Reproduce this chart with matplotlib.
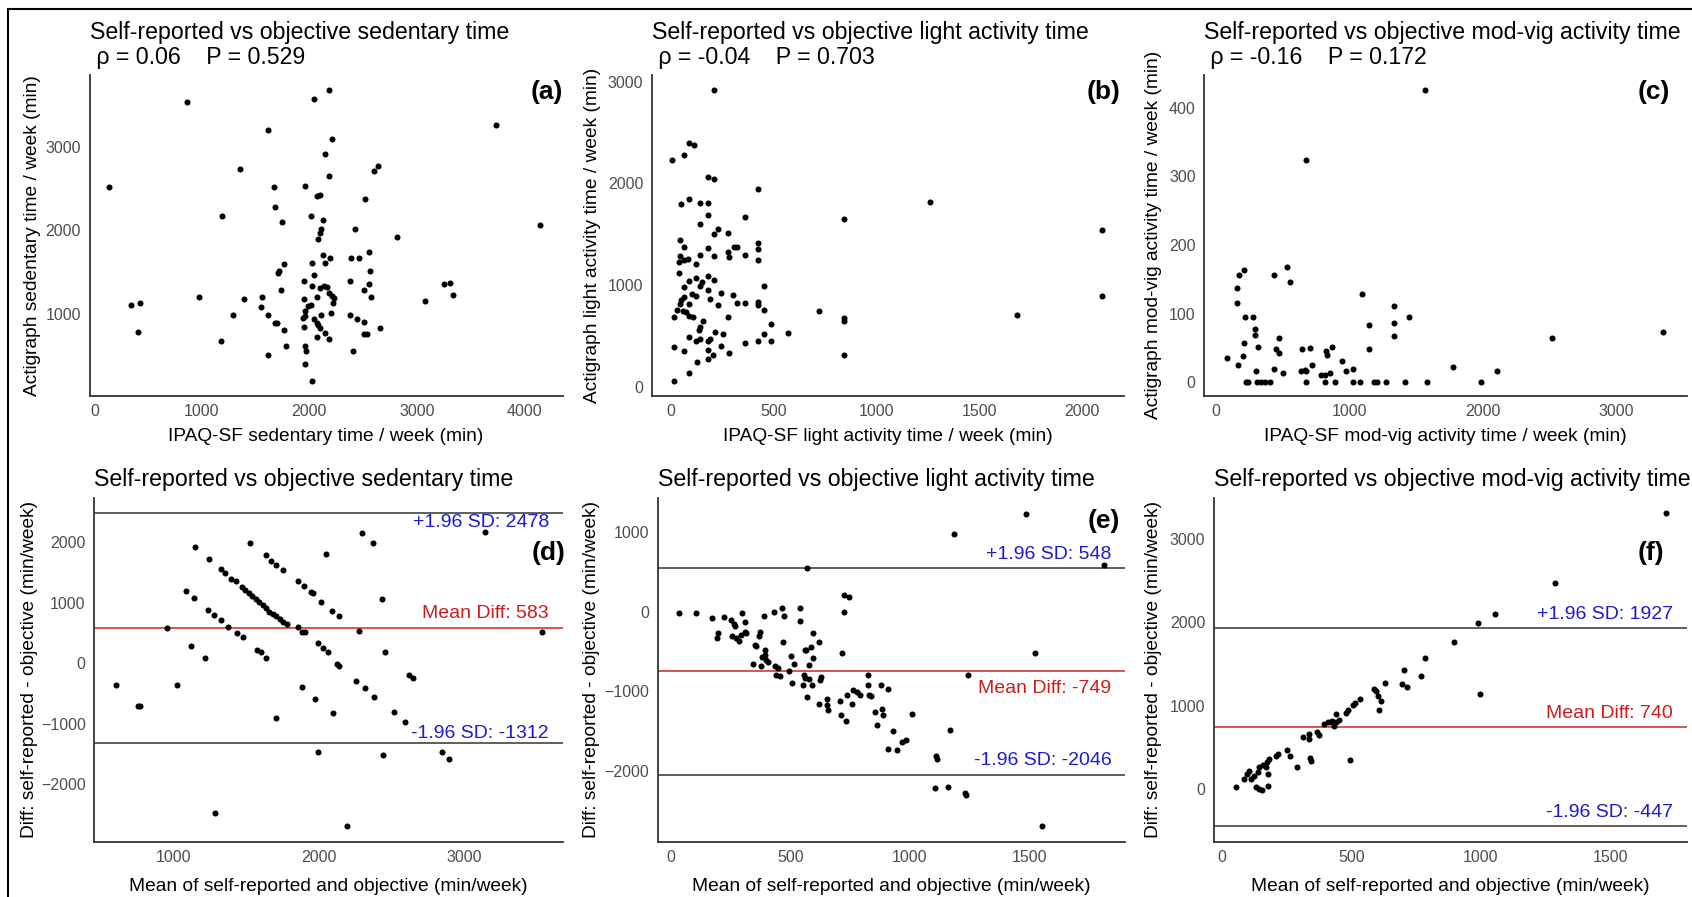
import numpy as np
import matplotlib
matplotlib.use('Agg')
import matplotlib.pyplot as plt
from matplotlib.lines import Line2D

plt.rcParams['font.family'] = ['Liberation Sans', 'DejaVu Sans']

W, H = 1692, 897

# --- data ---
# (a) IPAQ-SF vs Actigraph sedentary time
sed_pts = [(137,2514),(861,3538),(1613,3199),(1356,2733),(1187,2171),(1671,2514),(1684,2279),(1745,2096),
           (2047,3570),(2182,3681),(2213,3088),(2143,2916),(2182,2653),(1963,2530),(2075,2406),(2101,2418),
           (2519,2375),(2602,2713),(2637,2773),(2011,2171),(2127,2124),(2111,2016),(2101,1968),(2079,1896),
           (2422,2016),(2820,1924),(3739,3259),(4150,2064),(2551,1749),(2127,1705),(2194,1677),(2146,1618),
           (2021,1614),(2384,1673),(2458,1673),(1768,1598),(1716,1518),(1706,1490),(2047,1470),(2564,1518),
           (1947,1394),(2380,1394),(2554,1362),(3257,1366),(3308,1374),(2021,1339),(2101,1319),(2133,1339),
           (2165,1327),(1732,1287),(2506,1287),(2181,1259),(2207,1219),(2230,1199),(2220,1139),(971,1211),
           (1559,1211),(2577,1211),(3341,1227),(2069,1211),(1947,1179),(1395,1179),(3074,1163),(345,1116),
           (429,1131),(2011,1116),(1989,1100),(1552,1088),(1286,996),(1613,996),(2111,996),(2198,1016),
           (2380,996),(1963,1040),(1957,980),(1944,956),(2444,940),(2509,904),(2047,948),(2069,900),
           (2085,869),(2101,841),(1684,900),(1700,892),(1947,849),(2653,837),(1768,809),(2146,781),
           (2506,761),(2535,761),(2069,729),(2182,709),(1178,681),(1784,618),(1957,622),(1966,562),
           (2409,562),(1613,510),(403,793),(1960,402),(2021,203)]

# (b) light activity
light_pts = [(209,2918),(5,2226),(63,2282),(90,2397),(113,2380),(183,2066),(210,2039),(423,1948),(49,1797),
             (90,1843),(143,1807),(183,1807),(183,1692),(143,1603),(231,1551),(210,1498),(278,1511),(363,1666),
             (843,1652),(1263,1820),(45,1439),(63,1374),(43,1289),(63,1249),(83,1252),(37,1223),(123,1207),
             (143,1295),(183,1361),(210,1285),(278,1321),(283,1272),(306,1370),(323,1370),(363,1295),(423,1413),
             (423,1354),(423,1246),(37,1118),(63,977),(90,1043),(123,1066),(153,1033),(143,993),(183,1085),
             (210,1052),(452,987),(49,849),(66,879),(43,816),(104,911),(120,889),(183,951),(243,925),(303,898),
             (188,862),(320,823),(363,823),(423,836),(423,803),(231,803),(90,810),(452,757),(723,744),(1685,708),
             (31,754),(57,748),(75,731),(90,692),(110,682),(17,682),(278,682),(843,672),(843,646),(157,643),
             (143,584),(139,557),(485,616),(214,534),(252,518),(452,518),(570,531),(90,485),(123,446),(143,469),
             (183,446),(190,469),(363,430),(423,452),(485,452),(243,403),(17,387),(63,354),(183,361),(207,311),
             (183,272),(283,328),(843,311),(125,239),(90,134),(17,59),(2100,1545),(2100,895)]

# (c) moderate-vigorous activity
mv_pts = [(1563,426),(676,324),(3347,74),(2519,65),(88,36),(157,138),(157,116),(171,156),(214,163),(534,168),
          (559,146),(437,157),(220,95),(282,95),(291,78),(291,69),(214,57),(202,38),(165,25),(320,51),(471,65),
          (448,48),(471,43),(300,16),(434,19),(505,14),(228,0),(242,0),(308,0),(342,0),(371,0),(405,0),
          (645,48),(708,50),(636,16),(671,18),(679,16),(722,25),(676,0),(822,46),(833,40),(870,51),(790,11),
          (819,11),(856,14),(819,0),(893,0),(947,31),(976,16),(1030,19),(1030,0),(1078,0),(1093,129),(1150,84),
          (1150,48),(1184,0),(1204,0),(1275,0),(1332,111),(1332,87),(1332,67),(1447,95),(1418,0),(1583,0),
          (1778,23),(1986,0),(2106,16)]

# (d) Bland-Altman sedentary: mean, difference
ba_sed_pts = [(601,-355),(758,-701),(770,-701),(957,580),(1021,-355),(1083,1186),(1138,1076),(1145,1928),
              (1119,284),(1216,91),(1242,1719),(1235,883),(1280,800),(1323,713),(1375,597),(1323,1554),(1351,1499),
              (1394,1389),(1430,1362),(1470,1262),(1493,1208),(1517,1169),(1541,1114),(1565,1059),(1591,1004),
              (1614,960),(1636,911),(1655,850),(1683,812),(1707,773),(1731,729),(1754,685),(1529,1994),(1439,493),
              (1477,427),(1577,217),(1600,179),(1636,91),(1636,1785),(1671,1692),(1707,1626),(1754,1543),(1781,652),
              (1707,-910),(1857,1356),(1897,1274),(1945,1180),(1961,1153),(2011,1015),(2091,856),(2139,773),
              (1854,602),(1885,519),(1902,508),(1993,327),(2029,244),(2060,189),(2124,-13),(2141,-52),(2049,1801),
              (1885,-398),(1975,-591),(2098,-828),(1994,-1471),(2191,-2692),(1287,-2478),(2272,525),(2255,-294),
              (2317,-415),(2379,-553),(2296,2148),(2374,1994),(2431,1065),(2454,185),(2514,-811),(2592,-976),
              (2620,-189),(2649,-250),(2442,-1509),(2846,-1471),(2896,-1581),(3142,2170),(3533,524)]

# (e) Bland-Altman light
ba_light_pts = [(1488,1225),(1187,976),(569,548),(727,207),(746,186),(727,-5),(33,-21),(107,-21),(173,-84),
                (222,-71),(254,-105),(267,-154),(269,-175),(297,-21),(312,-129),(391,-51),(434,-5),(466,41),
                (476,-51),(542,41),(543,-117),(199,-271),(193,-333),(257,-312),(272,-333),(284,-366),(296,-292),
                (309,-250),(316,-271),(373,-250),(369,-304),(354,-416),(358,-437),(394,-479),(394,-541),(384,-570),
                (399,-612),(346,-653),(379,-678),(406,-637),(436,-686),(451,-707),(440,-790),(458,-803),(470,-387),
                (503,-553),(515,-653),(496,-749),(507,-894),(560,-479),(567,-487),(585,-445),(597,-271),(619,-387),
                (596,-583),(578,-666),(558,-790),(563,-832),(578,-844),(555,-915),(593,-923),(570,-1069),(625,-853),
                (630,-824),(619,-1152),(652,-1094),(655,-1165),(657,-1227),(715,-520),(709,-1123),(712,-1297),
                (736,-1040),(734,-1372),(760,-1152),(764,-977),(779,-1011),(794,-1040),(824,-799),(824,-915),
                (831,-1048),(839,-1061),(854,-1260),(861,-1422),(879,-915),(910,-969),(884,-1218),(887,-1289),
                (928,-1497),(910,-1725),(948,-1734),(966,-1634),(985,-1609),(1009,-1281),(1110,-1808),(1112,-1850),
                (1170,-1489),(1104,-2203),(1160,-2191),(1231,-2266),(1234,-2299),(1242,-799),(1522,-520),
                (1552,-2690),(1811,580)]

# (f) Bland-Altman mod-vig
ba_mv_pts = [(1715,3312),(1289,2474),(1055,2103),(989,1995),(996,1137),(897,1759),(786,1572),(771,1356),
             (704,1424),(695,1257),(714,1217),(630,1265),(588,1197),(596,1177),(603,1117),(615,1057),(606,953),
             (534,1077),(514,1029),(508,1009),(480,917),(489,945),(440,897),(451,826),(440,798),(425,818),
             (396,778),(411,806),(422,798),(433,758),(366,678),(375,646),(336,658),(314,618),(336,598),(495,351),
             (339,371),(344,339),(289,267),(252,466),(262,399),(218,419),(210,391),(181,359),(173,319),(159,291),
             (170,259),(178,179),(144,259),(141,207),(126,159),(99,179),(114,119),(84,119),(107,219),(132,19),
             (144,0),(156,-8),(178,40),(55,19)]

sed_loa = [2478, 583, -1312]
light_loa = [548, -749, -2046]
mv_loa = [1927, 740, -447]

titles_top = ["Self-reported vs objective sedentary time",
              "Self-reported vs objective light activity time",
              "Self-reported vs objective mod-vig activity time"]
stats_top = [" \u03c1 = 0.06    P = 0.529", " \u03c1 = -0.04    P = 0.703", " \u03c1 = -0.16    P = 0.172"]
xlabels_top = ["IPAQ-SF sedentary time / week (min)", "IPAQ-SF light activity time / week (min)",
               "IPAQ-SF mod-vig activity time / week (min)"]
ylabels_top = ["Actigraph sedentary time / week (min)", "Actigraph light activity time / week (min)",
               "Actigraph mod-vig activity time / week (min)"]
xlabel_ba = "Mean of self-reported and objective (min/week)"
ylabel_ba = "Diff: self-reported - objective (min/week)"

fig = plt.figure(figsize=(W / 100, H / 100), dpi=100)


def box(l, t, r, b):
    return [l / W, 1 - b / H, (r - l) / W, (b - t) / H]


def style(ax, l, t, r, b, xlab, ylab, ylab_x, xlab_y):
    for s in ['top', 'right']:
        ax.spines[s].set_visible(False)
    for s in ['left', 'bottom']:
        ax.spines[s].set_color('#333333')
        ax.spines[s].set_linewidth(1.3)
    ax.tick_params(length=0, labelsize=11.5, labelcolor='#4D4D4D', pad=6.2)
    ax.set_xlabel(xlab, fontsize=13.8)
    ax.set_ylabel(ylab, fontsize=13.8)
    ax.xaxis.label.set_va('center')
    ax.yaxis.label.set_va('center')
    ax.xaxis.set_label_coords(0.5, -(xlab_y - b) / (b - t))
    ax.yaxis.set_label_coords((ylab_x - l) / (r - l), 0.5)


top_boxes = [(89.5, 75, 562.7, 395.7), (652, 75, 1124.3, 395.7), (1204.3, 75, 1686.7, 395.7)]
bot_boxes = [(94.3, 497.7, 562.7, 841.7), (657.7, 497.7, 1125, 841.7), (1214, 497.7, 1686.5, 841.7)]

top_data = [sed_pts, light_pts, mv_pts]
top_xlim = [(-45, 4357), (-92, 2207), (-85, 3524)]
top_ylim = [(29, 3855), (-89, 3066), (-19.4, 447.6)]
top_xt = [[0, 1000, 2000, 3000, 4000], [0, 500, 1000, 1500, 2000], [0, 1000, 2000, 3000]]
top_yt = [[1000, 2000, 3000], [0, 1000, 2000, 3000], [0, 100, 200, 300, 400]]
top_ylab_x = [33, 592, 1153]

for i in range(3):
    l, t, r, b = top_boxes[i]
    ax = fig.add_axes(box(l, t, r, b))
    pts = np.array(top_data[i])
    ax.scatter(pts[:, 0], pts[:, 1], s=19, c='black', linewidths=0, zorder=3)
    ax.set_xlim(*top_xlim[i])
    ax.set_ylim(*top_ylim[i])
    ax.set_xticks(top_xt[i])
    ax.set_yticks(top_yt[i])
    style(ax, l, t, r, b, xlabels_top[i], ylabels_top[i], top_ylab_x[i], 436)
    fig.text(l / W, 1 - 38.5 / H, titles_top[i], fontsize=16.7, ha='left', va='baseline')
    fig.text(l / W, 1 - 64 / H, stats_top[i], fontsize=16.7, ha='left', va='baseline')

bot_data = [ba_sed_pts, ba_light_pts, ba_mv_pts]
bot_loa = [sed_loa, light_loa, mv_loa]
bot_xlim = [(455, 3676), (-54, 1900), (-30, 1795)]
bot_ylim = [(-2950, 2736), (-2881, 1425), (-631, 3491)]
bot_xt = [[1000, 2000, 3000], [0, 500, 1000, 1500], [0, 500, 1000, 1500]]
bot_yt = [[-2000, -1000, 0, 1000, 2000], [-2000, -1000, 0, 1000], [0, 1000, 2000, 3000]]
bot_ylab_x = [29.3, 591.7, 1153]
# pixel offsets of the labels from their lines (positive = above)
bot_offsets = [(-9.3, 14, 9.3), (13.3, -16.7, 14), (14, 13.3, 14)]

for i in range(3):
    l, t, r, b = bot_boxes[i]
    ax = fig.add_axes(box(l, t, r, b))
    pts = np.array(bot_data[i])
    up, mean, low = bot_loa[i]
    ax.axhline(up, color='#333333', lw=1.1, zorder=1)
    ax.axhline(low, color='#333333', lw=1.1, zorder=1)
    ax.axhline(mean, color='#CD2626', lw=1.1, zorder=1)
    ax.scatter(pts[:, 0], pts[:, 1], s=19, c='black', linewidths=0, zorder=3)
    ax.set_xlim(*bot_xlim[i])
    ax.set_ylim(*bot_ylim[i])
    ax.set_xticks(bot_xt[i])
    ax.set_yticks(bot_yt[i])
    style(ax, l, t, r, b, xlabel_ba, ylabel_ba, bot_ylab_x[i], 886.7)
    fig.text(l / W, 1 - 485.5 / H, titles_top[i], fontsize=16.7, ha='left', va='baseline')
    labs = ["+1.96 SD: %d" % up, "Mean Diff: %d" % mean, "-1.96 SD: %d" % low]
    cols = ['#1C1CCD', '#CD1C1C', '#1C1CCD']
    for lab, val, col, dy in zip(labs, [up, mean, low], cols, bot_offsets[i]):
        ax.annotate(lab, xy=(0.971, val), xycoords=ax.get_yaxis_transform(),
                    xytext=(0, dy * 0.72), textcoords='offset points',
                    ha='right', va='center', color=col, fontsize=14, zorder=2)

# panel letters
letters = [('(a)', 563, 92), ('(b)', 1120, 92), ('(c)', 1670, 92),
           ('(d)', 565, 553), ('(e)', 1119.5, 521), ('(f)', 1664, 553)]
for txt, x, y in letters:
    fig.text(x / W, 1 - y / H, txt, fontsize=19, fontweight='bold', ha='right', va='center')

# outer frame (left and top edges visible)
fig.add_artist(Line2D([8.3 / W, 8.3 / W], [0, 1 - 9.3 / H], color='black', lw=1.5))
fig.add_artist(Line2D([8.3 / W, 1], [1 - 9.3 / H, 1 - 9.3 / H], color='black', lw=1.5))

fig.savefig('out.png', dpi=100)
